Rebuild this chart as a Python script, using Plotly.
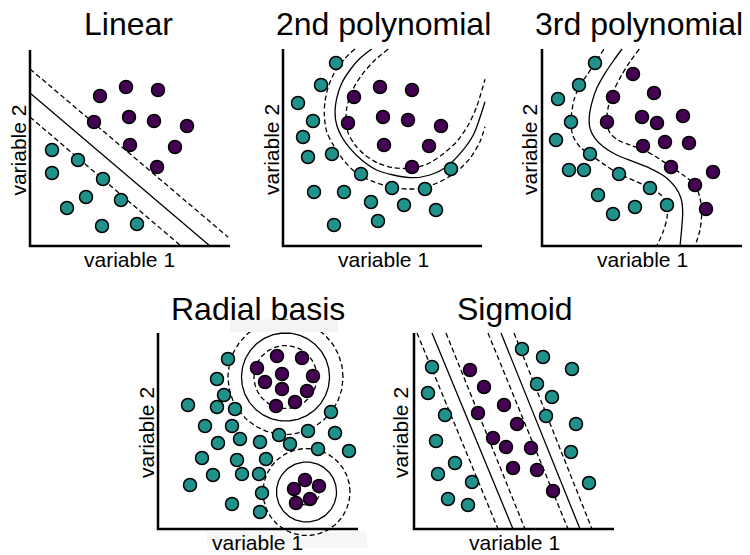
import numpy as np
import plotly.graph_objects as go

TEAL = "#21918c"
PURPLE = "#440154"
FONT = "Liberation Sans"
W_PX, H_PX = 750, 555

# ---------------- data (local coords: px from axis corner) ----------------
# Linear
lin_teal_x = [22, 48, 22, 73, 56, 37, 91, 72, 107]
lin_teal_y = [96, 86, 73, 67, 49, 38, 46, 20, 22]
lin_purple_x = [70, 96, 128, 64, 99, 124, 157, 100, 145, 127]
lin_purple_y = [150, 159, 156, 124, 129, 125, 120, 101, 99, 79]
lin_solid_x = [0, 180]
lin_solid_y = [153, 0]
lin_dash_up_x = [0, 198]
lin_dash_up_y = [177, 9]
lin_dash_lo_x = [0, 151]
lin_dash_lo_y = [129, 0]

# 2nd polynomial
p2_teal_x = [53, 38, 15, 30, 20, 25, 49, 78, 31, 61, 88, 51, 95, 109, 121, 142, 153, 168]
p2_teal_y = [183, 161, 143, 125, 109, 89, 92, 72, 54, 54, 44, 21, 25, 58, 41, 57, 36, 77]
p2_purple_x = [71, 97, 129, 65, 100, 125, 158, 101, 146, 129]
p2_purple_y = [149, 159, 156, 123, 129, 126, 120, 101, 100, 79]
p2_solid_x = [88.7, 77, 67, 58.7, 53.7, 52, 53.7, 58.7, 67, 78.7, 93.7, 110.3, 128.7, 147, 163.7, 178.7, 190.3, 202]
p2_solid_y = [197, 187.7, 176, 162.7, 147.7, 134.3, 121, 109.3, 97.7, 86, 76, 71, 68.3, 71, 79.3, 94.3, 111, 144.3]
p2_dash_out_x = [72, 62, 52, 45.3, 42, 41.3, 43.7, 50.3, 60.3, 73.7, 90.3, 107, 123.7, 140.3, 157, 173.7, 187, 197, 202]
p2_dash_out_y = [197, 187.7, 174.3, 159.3, 144.3, 131, 114.3, 101, 86, 72.7, 64.3, 59.3, 57, 58.3, 64.3, 74.3, 87.7, 104.3, 119.3]
p2_dash_in_x = [105.3, 92, 78.7, 68.7, 63.7, 63, 65.3, 72, 82, 95.3, 110.3, 127, 143.7, 158.7, 173.7, 185.3, 193.7, 202]
p2_dash_in_y = [197, 186, 171, 154.3, 137.7, 124.3, 112.7, 101, 91, 82.7, 78.3, 77.7, 81.7, 91, 104.3, 121, 139.3, 166.7]

# 3rd polynomial
p3_teal_x = [53, 37, 16, 29, 14, 48, 27, 42, 77, 56, 108, 71, 93, 125]
p3_teal_y = [183, 161, 147, 124, 106, 92, 76, 76, 72, 51, 58, 32, 39, 41]
p3_purple_x = [91, 112, 71, 65, 100, 115, 141, 101, 123, 147, 129, 171, 153, 164]
p3_purple_y = [172, 153, 149, 124, 129, 123, 130, 100, 104, 103, 79, 74, 61, 37]
p3_solid_x = [80, 72, 63, 54.7, 49.7, 47.3, 48, 53, 61.3, 74.7, 91.3, 108, 123, 133, 139, 140.7, 139.7, 138]
p3_solid_y = [197, 186, 172.7, 157.7, 142.7, 129.3, 117.7, 107.7, 99.3, 91, 84.3, 77.7, 69.3, 59.3, 47.7, 34.3, 17.7, 0]
p3_dash_l_x = [62, 53, 45, 38, 32, 29, 31, 38, 48, 63, 77.3, 93, 108, 119, 124.7, 125, 121, 114.7]
p3_dash_l_y = [197, 183, 171, 161, 146, 125, 110, 99, 91.7, 81, 72, 65, 58.3, 51, 41, 28, 14, 0]
p3_dash_r_x = [97.3, 88, 79.7, 72, 66.7, 64.7, 68, 76, 88, 101.3, 114, 128.7, 141, 153, 158, 159.7, 158, 153]
p3_dash_r_y = [197, 184.3, 171, 156, 141, 124, 113, 106, 101, 96, 89.3, 79.3, 71, 61, 48, 33, 16, 0]

# Radial basis
rbf_teal_x = [70, 59, 66, 30, 59, 77, 47, 74, 82, 60, 102, 121, 132, 150, 173, 177, 160, 191,
              44, 79, 108, 55, 84, 101, 32, 104, 74, 102]
rbf_teal_y = [170, 150, 134, 124, 122, 120, 103, 103, 90, 86, 87, 94, 85, 98, 117, 96, 80, 78,
              71, 69, 70, 54, 55, 55, 44, 36, 25, 17]
rbf_purple_x = [119, 144, 99, 124, 155, 107, 124, 149, 118, 137, 147, 136, 161, 138, 152]
rbf_purple_y = [173, 171, 161, 155, 153, 147, 140, 138, 123, 127, 49, 40, 43, 26, 30]
rbf_center_x = [127.5, 148.5]
rbf_center_y = [152, 37]
rbf_solid_r = [44, 30]
rbf_dash_in_r = [31.5, 13]
rbf_dash_out_r = [57.5, 43.5]

# Sigmoid
sig_teal_x = [18, 14, 31, 22, 41, 24, 58, 34, 54, 108, 129, 158, 123, 138, 132, 162, 157, 175]
sig_teal_y = [162, 136, 114, 88, 66, 55, 47, 30, 24, 180, 172, 160, 145, 132, 113, 105, 77, 46]
sig_purple_x = [56, 70, 90, 64, 103, 79, 92, 117, 99, 123, 139]
sig_purple_y = [159, 142, 124, 116, 105, 91, 82, 81, 61, 59, 38]
sig_solid_x = [[18, 99], [87, 166]]
sig_solid_y = [[196, 0], [196, 0]]
sig_dash_x = [[3, 84], [32, 111], [74, 154], [100, 178]]
sig_dash_y = [[196, 0], [196, 0], [196, 0], [196, 0]]

titles = ["Linear", "2nd polynomial", "3rd polynomial", "Radial basis", "Sigmoid"]
xlabel = "variable 1"
ylabel = "variable 2"

# ---------------- layout geometry (pixels) ----------------
panels = [
    dict(x0=30, y0=246, w=200, h=196, pl=8, pr=8, pt=8, pb=8),
    dict(x0=283, y0=246, w=199, h=197, pl=8, pr=8, pt=8, pb=8),
    dict(x0=542, y0=246, w=200, h=197, pl=8, pr=8, pt=8, pb=8),
    dict(x0=158, y0=529, w=200, h=196, pl=8, pr=8, pt=22, pb=8),
    dict(x0=414, y0=529, w=200, h=196, pl=8, pr=8, pt=8, pb=8),
]
title_pos = [(128.3, 23.5), (383, 23.5), (639, 23.5), (257.5, 308.5), (514.5, 308.5)]
xlab_pos = [(129.7, 259), (383.5, 259), (642, 259), (257.5, 542.5), (514, 542.5)]
ylab_pos = [(17.6, 150), (271, 150), (529, 150), (146, 433), (400, 433)]

fig = go.Figure()
layout = dict(
    width=W_PX, height=H_PX, margin=dict(l=0, r=0, t=0, b=0),
    paper_bgcolor="white", plot_bgcolor="rgba(0,0,0,0)", showlegend=False,
)
shapes = []
annotations = []

def fx(px):
    return px / W_PX

def fy(py):
    return 1 - py / H_PX

for i, p in enumerate(panels):
    n = "" if i == 0 else str(i + 1)
    xd = [fx(p["x0"] - p["pl"]), min(1.0, fx(p["x0"] + p["w"] + p["pr"]))]
    yd = [fy(p["y0"] + p["pb"]), fy(p["y0"] - p["h"] - p["pt"])]
    layout["xaxis" + n] = dict(domain=xd, range=[-p["pl"], (xd[1] * W_PX) - p["x0"]],
                              visible=False, fixedrange=True)
    layout["yaxis" + n] = dict(domain=yd, range=[-p["pb"], p["h"] + p["pt"]],
                              visible=False, fixedrange=True)
    shapes.append(dict(type="path", xref="x" + n, yref="y" + n,
                       path=f"M 0,{p['h']} L 0,0 L {p['w']},0",
                       line=dict(color="black", width=2.5), layer="above"))
    annotations.append(dict(text=titles[i], x=fx(title_pos[i][0]), y=fy(title_pos[i][1]),
                            xref="paper", yref="paper", showarrow=False,
                            xanchor="center", yanchor="middle",
                            font=dict(family=FONT, size=32, color="black")))
    annotations.append(dict(text=xlabel, x=fx(xlab_pos[i][0]), y=fy(xlab_pos[i][1]),
                            xref="paper", yref="paper", showarrow=False,
                            xanchor="center", yanchor="middle",
                            font=dict(family=FONT, size=21, color="black")))
    annotations.append(dict(text=ylabel, x=fx(ylab_pos[i][0]), y=fy(ylab_pos[i][1]),
                            xref="paper", yref="paper", showarrow=False, textangle=-90,
                            xanchor="center", yanchor="middle",
                            font=dict(family=FONT, size=21, color="black")))

def ax(i):
    n = "" if i == 0 else str(i + 1)
    return dict(xaxis="x" + n, yaxis="y" + n)

def line(i, xs, ys, dash=False, spline=False):
    fig.add_trace(go.Scatter(
        x=xs, y=ys, mode="lines", hoverinfo="skip",
        line=dict(color="black", width=1.3, dash="5px,3px" if dash else "solid",
                  shape="spline" if spline else "linear", smoothing=0.8),
        **ax(i)))

def pts(i, xs, ys, color):
    fig.add_trace(go.Scatter(
        x=xs, y=ys, mode="markers", hoverinfo="skip",
        marker=dict(size=13, color=color, line=dict(color="black", width=1.5)),
        **ax(i)))

# Linear
line(0, lin_solid_x, lin_solid_y)
line(0, lin_dash_up_x, lin_dash_up_y, dash=True)
line(0, lin_dash_lo_x, lin_dash_lo_y, dash=True)
pts(0, lin_teal_x, lin_teal_y, TEAL)
pts(0, lin_purple_x, lin_purple_y, PURPLE)

# 2nd polynomial
line(1, p2_solid_x, p2_solid_y, spline=True)
line(1, p2_dash_out_x, p2_dash_out_y, dash=True, spline=True)
line(1, p2_dash_in_x, p2_dash_in_y, dash=True, spline=True)
pts(1, p2_teal_x, p2_teal_y, TEAL)
pts(1, p2_purple_x, p2_purple_y, PURPLE)

# 3rd polynomial
line(2, p3_solid_x, p3_solid_y, spline=True)
line(2, p3_dash_l_x, p3_dash_l_y, dash=True, spline=True)
line(2, p3_dash_r_x, p3_dash_r_y, dash=True, spline=True)
pts(2, p3_teal_x, p3_teal_y, TEAL)
pts(2, p3_purple_x, p3_purple_y, PURPLE)

# Radial basis
theta = np.linspace(0, 2 * np.pi, 181)
for cx, cy, rs, rdi, rdo in zip(rbf_center_x, rbf_center_y, rbf_solid_r, rbf_dash_in_r, rbf_dash_out_r):
    line(3, cx + rs * np.cos(theta), cy + rs * np.sin(theta))
    line(3, cx + rdi * np.cos(theta), cy + rdi * np.sin(theta), dash=True)
    line(3, cx + rdo * np.cos(theta), cy + rdo * np.sin(theta), dash=True)
pts(3, rbf_teal_x, rbf_teal_y, TEAL)
pts(3, rbf_purple_x, rbf_purple_y, PURPLE)

# Sigmoid
for xs, ys in zip(sig_solid_x, sig_solid_y):
    line(4, xs, ys)
for xs, ys in zip(sig_dash_x, sig_dash_y):
    line(4, xs, ys, dash=True)
pts(4, sig_teal_x, sig_teal_y, TEAL)
pts(4, sig_purple_x, sig_purple_y, PURPLE)

# faint light-grey patches present in the original image
shapes.append(dict(type="rect", xref="paper", yref="paper",
                   x0=fx(230), x1=fx(338), y0=fy(332), y1=fy(319.5),
                   fillcolor="#f4f4f4", line=dict(width=0), layer="above"))
shapes.append(dict(type="rect", xref="paper", yref="paper",
                   x0=fx(207), x1=fx(367), y0=fy(548), y1=fy(531.5),
                   fillcolor="#f7f7f7", line=dict(width=0), layer="below"))

layout["shapes"] = shapes
layout["annotations"] = annotations
fig.update_layout(**layout)
fig.write_html("out.html")
